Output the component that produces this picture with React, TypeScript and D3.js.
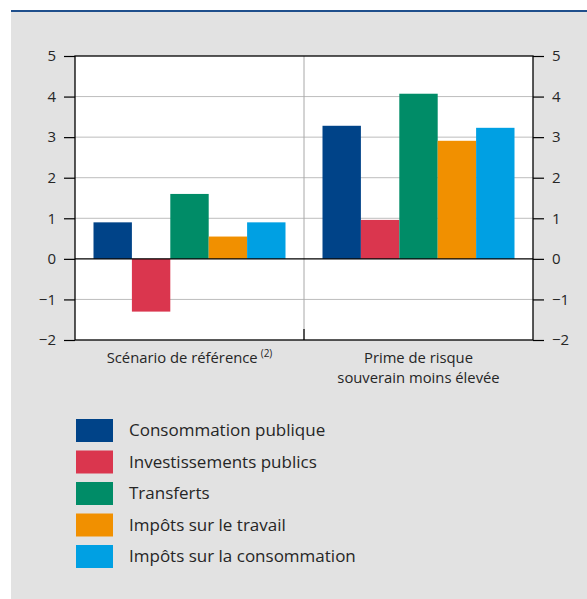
import { useRef, useEffect } from 'react'
import * as d3 from 'd3'

const categories = ['Scénario de référence', 'Prime de risque\nsouverain moins élevée']
const seriesNames = [
  'Consommation publique',
  'Investissements publics',
  'Transferts',
  'Impôts sur le travail',
  'Impôts sur la consommation',
]
const seriesColors = ['#004388', '#da364e', '#008c67', '#f19000', '#00a0e3']
const consommationPublique = [0.9, 3.28]
const investissementsPublics = [-1.3, 0.96]
const transferts = [1.6, 4.07]
const impotsTravail = [0.55, 2.91]
const impotsConsommation = [0.9, 3.23]
const yTicks = [-2, -1, 0, 1, 2, 3, 4, 5]

const seriesValues = [consommationPublique, investissementsPublics, transferts, impotsTravail, impotsConsommation]

const FONT = "'Open Sans', sans-serif"
const fmt = (v: number) => (v < 0 ? '\u2212' + Math.abs(v) : String(v))

export default function App() {
  const svgRef = useRef<SVGSVGElement>(null)

  useEffect(() => {
    if (!svgRef.current) return
    const width = 587
    const height = 599
    const svg = d3.select(svgRef.current)
    svg.selectAll('*').remove()
    svg.attr('width', width).attr('height', height)

    // background panel + top rule
    svg.append('rect').attr('x', 11).attr('y', 12).attr('width', width - 11).attr('height', height - 12).attr('fill', '#e2e2e2')
    svg.append('rect').attr('x', 11).attr('y', 10).attr('width', width - 11).attr('height', 2).attr('fill', '#1f4f8c')

    const left = 75
    const right = 533
    const top = 56
    const bottom = 340

    const y = d3.scaleLinear().domain([-2, 5]).range([bottom, top])
    const x0 = d3.scaleBand<number>().domain(categories.map((_, i) => i)).range([left, right]).paddingInner(0).paddingOuter(0)
    const inner = 192
    const x1 = d3.scaleBand<number>().domain(seriesNames.map((_, i) => i)).range([0, inner])
    const pad = (x0.bandwidth() - inner) / 2

    svg.append('rect').attr('x', left).attr('y', top).attr('width', right - left).attr('height', bottom - top).attr('fill', '#fff')

    // gridlines
    svg.append('g')
      .selectAll('line')
      .data(yTicks.filter(t => t !== 0 && t !== -2 && t !== 5))
      .join('line')
      .attr('x1', left).attr('x2', right)
      .attr('y1', d => y(d)).attr('y2', d => y(d))
      .attr('stroke', '#bdbdbd').attr('stroke-width', 1)

    // category divider
    svg.append('line')
      .attr('x1', x0(1)!).attr('x2', x0(1)!)
      .attr('y1', top).attr('y2', bottom)
      .attr('stroke', '#a8a8a8').attr('stroke-width', 1)
    svg.append('line')
      .attr('x1', x0(1)!).attr('x2', x0(1)!)
      .attr('y1', bottom - 11).attr('y2', bottom)
      .attr('stroke', '#000').attr('stroke-width', 1.2)

    // bars
    const groups = svg.append('g')
      .selectAll('g')
      .data(categories.map((_, ci) => ci))
      .join('g')
      .attr('transform', ci => `translate(${x0(ci)! + pad},0)`)

    groups.selectAll('rect')
      .data(ci => seriesValues.map((vals, si) => ({ si, v: vals[ci] })))
      .join('rect')
      .attr('x', d => x1(d.si)!)
      .attr('width', x1.bandwidth())
      .attr('y', d => y(Math.max(0, d.v)))
      .attr('height', d => Math.abs(y(d.v) - y(0)))
      .attr('fill', d => seriesColors[d.si])

    // zero line and frame
    svg.append('line').attr('x1', left).attr('x2', right).attr('y1', y(0)).attr('y2', y(0)).attr('stroke', '#000').attr('stroke-width', 1.2)
    svg.append('rect').attr('x', left).attr('y', top).attr('width', right - left).attr('height', bottom - top)
      .attr('fill', 'none').attr('stroke', '#000').attr('stroke-width', 1.3)

    // axes
    const axL = svg.append('g').attr('transform', `translate(${left},0)`)
      .call(d3.axisLeft(y).tickValues(yTicks).tickSize(11).tickPadding(8).tickFormat(d => fmt(+d)))
    const axR = svg.append('g').attr('transform', `translate(${right},0)`)
      .call(d3.axisRight(y).tickValues(yTicks).tickSize(11).tickPadding(8).tickFormat(d => fmt(+d)))
    for (const ax of [axL, axR]) {
      ax.select('.domain').remove()
      ax.selectAll('.tick line').attr('stroke', '#000').attr('stroke-width', 1.2)
      ax.selectAll('text').attr('fill', '#262626').attr('font-size', '15px').attr('font-family', FONT)
    }

    // category labels
    const cat = svg.append('g')
    categories.forEach((c, ci) => {
      const cx = x0(ci)! + x0.bandwidth() / 2
      const lines = c.split('\n')
      const t = cat.append('text')
        .attr('x', cx)
        .attr('y', 363)
        .attr('text-anchor', 'middle')
        .attr('font-family', FONT)
        .attr('font-size', '14.8px')
        .attr('fill', '#262626')
      lines.forEach((ln, li) => {
        t.append('tspan').attr('x', cx).attr('dy', li === 0 ? 0 : 20).text(ln)
      })
      if (ci === 0) {
        t.append('tspan').attr('dx', 3).attr('dy', -6).attr('font-size', '10px').text('(2)')
      }
    })

    // legend
    const leg = svg.append('g')
    const ly = d3.scalePoint<number>().domain(seriesNames.map((_, i) => i)).range([419, 545])
    seriesNames.forEach((n, i) => {
      leg.append('rect').attr('x', 76).attr('y', ly(i)!).attr('width', 37).attr('height', 23).attr('fill', seriesColors[i])
      leg.append('text').attr('x', 129).attr('y', ly(i)! + 17)
        .attr('font-family', FONT).attr('font-size', '17px').attr('fill', '#262626').text(n)
    })
  }, [])

  return <svg ref={svgRef} style={{ position: 'absolute', left: 0, top: 0 }} />
}
